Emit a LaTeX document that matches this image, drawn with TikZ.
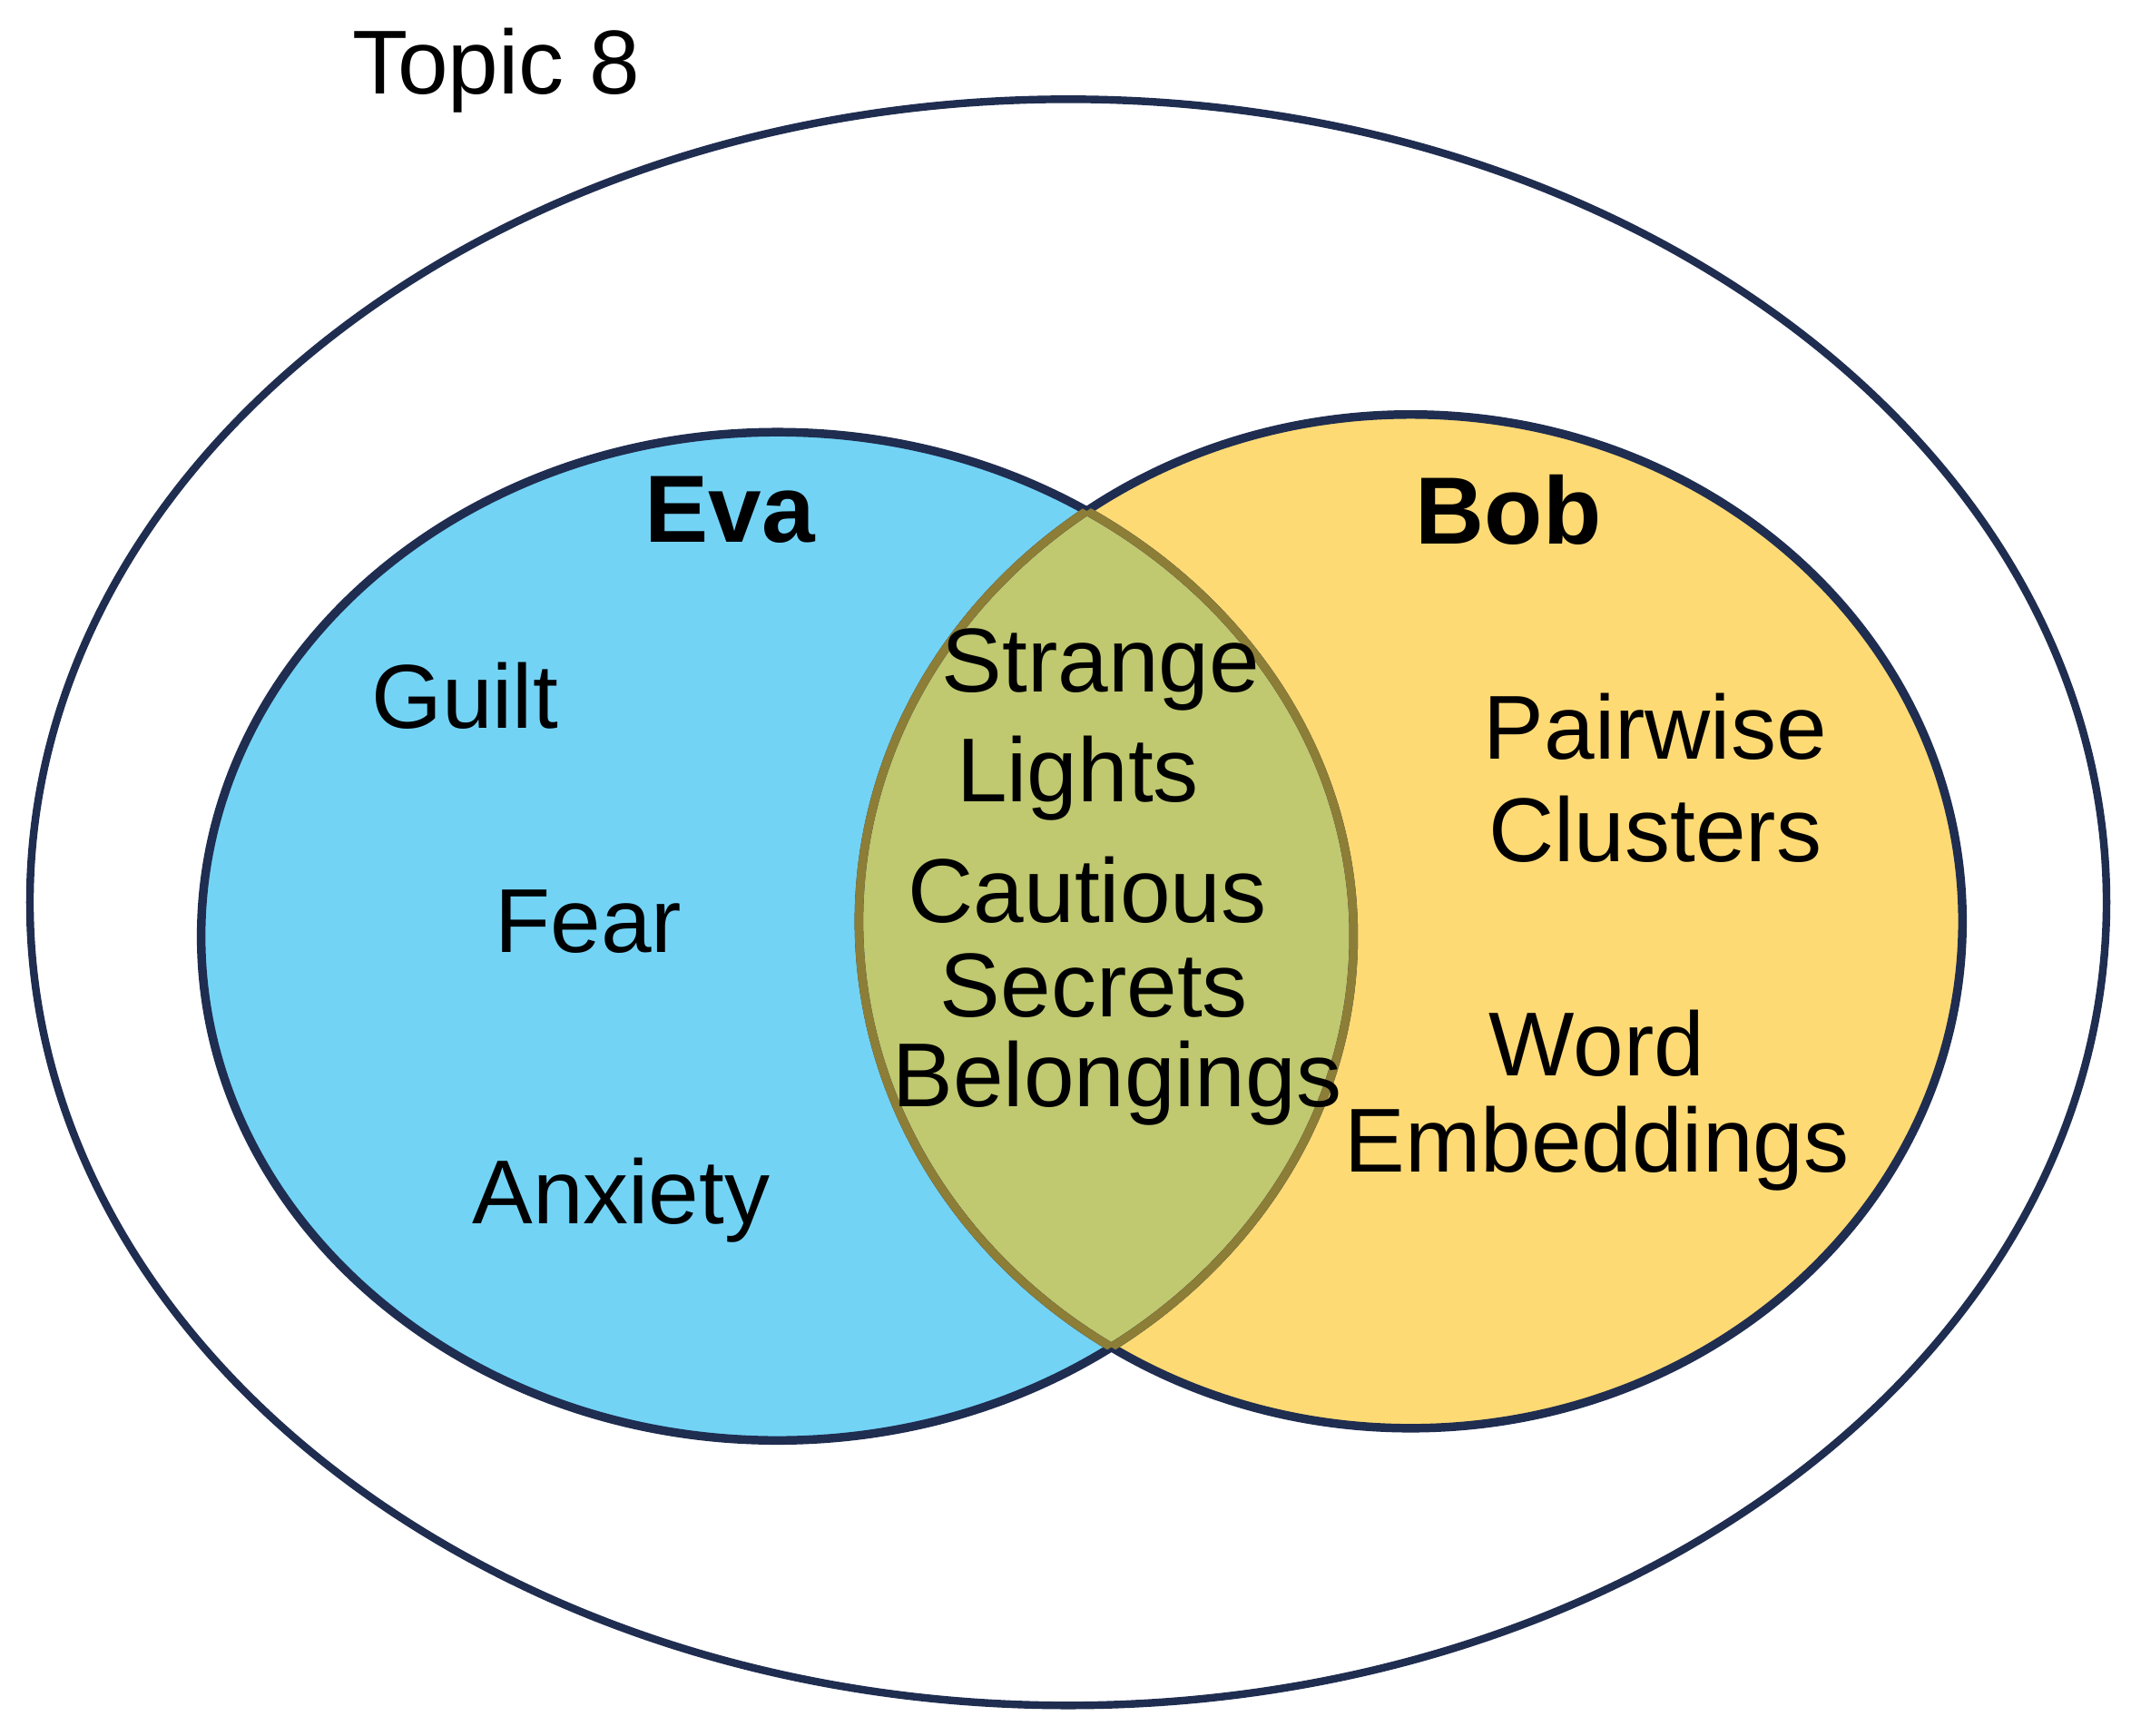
\documentclass[tikz,border=0pt]{standalone}
\usepackage{fontspec}
\setmainfont{Liberation Sans}
\definecolor{evablue}{RGB}{115,211,245}
\definecolor{bobyellow}{RGB}{254,218,117}
\definecolor{overlap}{RGB}{192,200,112}
\definecolor{rim}{RGB}{31,45,80}
\definecolor{innerrim}{RGB}{140,125,55}
\begin{document}
\begin{tikzpicture}[x=0.1mm,y=-0.1mm,
    word/.style={font=\fontsize{19}{22}\selectfont},
    person/.style={font=\fontsize{20}{24}\selectfont\bfseries}]
  \useasboundingbox (0,0) rectangle (1568,1277);
  % sets
  \draw[rim,line width=1.6pt] (786,664) ellipse [x radius=7.64cm,y radius=5.91cm];
  \fill[evablue] (572,689) ellipse [x radius=4.24cm,y radius=3.71cm];
  \fill[bobyellow] (1038,678) ellipse [x radius=4.06cm,y radius=3.73cm];
  \begin{scope}
    \clip (572,689) ellipse [x radius=4.24cm,y radius=3.71cm];
    \fill[overlap] (1038,678) ellipse [x radius=4.06cm,y radius=3.73cm];
  \end{scope}
  \draw[rim,line width=1.8pt] (572,689) ellipse [x radius=4.24cm,y radius=3.71cm];
  \draw[rim,line width=1.8pt] (1038,678) ellipse [x radius=4.06cm,y radius=3.73cm];
  \begin{scope}
    \clip (572,689) ellipse [x radius=4.24cm,y radius=3.71cm];
    \draw[innerrim,line width=1.8pt] (1038,678) ellipse [x radius=4.06cm,y radius=3.73cm];
  \end{scope}
  \begin{scope}
    \clip (1038,678) ellipse [x radius=4.06cm,y radius=3.73cm];
    \draw[innerrim,line width=1.8pt] (572,689) ellipse [x radius=4.24cm,y radius=3.71cm];
  \end{scope}
  % labels
  \node[word] (topic) at (365,52) {Topic 8};
  \node[person] (eva) at (537,375) {Eva};
  \node[person] (bob) at (1110,375) {Bob};
  \node[word] (guilt) at (342,512) {Guilt};
  \node[word] (fear) at (433,678) {Fear};
  \node[word] (anxiety) at (457,883) {Anxiety};
  \node[word] (strange) at (810,493) {Strange};
  \node[word] (lights) at (793,573) {Lights};
  \node[word] (cautious) at (800,655) {Cautious};
  \node[word] (secrets) at (805,725) {Secrets};
  \node[word] (belong) at (822,797) {Belongings};
  \node[word] (pairwise) at (1218,535) {Pairwise};
  \node[word] (clusters) at (1218,610) {Clusters};
  \node[word] (wordw) at (1175,768) {Word};
  \node[word] (embed) at (1175,845) {Embeddings};
\end{tikzpicture}
\end{document}
